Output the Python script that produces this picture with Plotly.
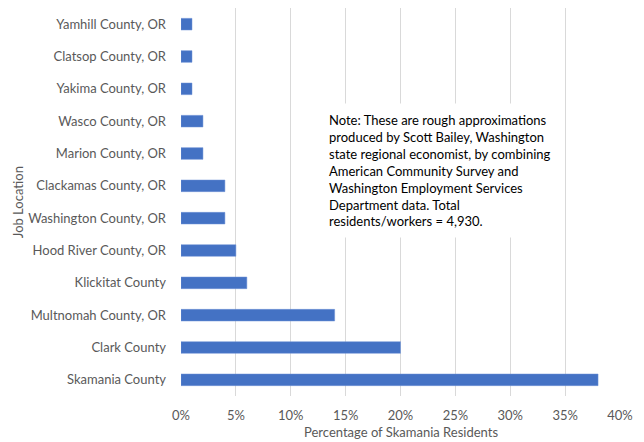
import plotly.graph_objects as go

categories = ["Skamania County", "Clark County", "Multnomah County, OR", "Klickitat County",
              "Hood River County, OR", "Washington County, OR", "Clackamas County, OR",
              "Marion County, OR", "Wasco County, OR", "Yakima County, OR",
              "Clatsop County, OR", "Yamhill County, OR"]
values = [0.38, 0.20, 0.14, 0.06, 0.05, 0.04, 0.04, 0.02, 0.02, 0.01, 0.01, 0.01]
x_ticks = [0, 0.05, 0.10, 0.15, 0.20, 0.25, 0.30, 0.35, 0.40]
x_tick_labels = ["0%", "5%", "10%", "15%", "20%", "25%", "30%", "35%", "40%"]

note = ("Note: These are rough approximations<br>produced by Scott Bailey, Washington<br>"
        "state regional economist, by combining<br>American Community Survey and<br>"
        "Washington Employment Services<br>Department data. Total<br>residents/workers = 4,930.")

fig = go.Figure(go.Bar(
    x=values, y=categories, orientation="h",
    marker=dict(color="#4472C4", line=dict(color="#6E92D6", width=0.5)),
    width=0.36,
))

fig.update_layout(
    width=636, height=434,
    margin=dict(l=173, r=24, t=0, b=46, autoexpand=False),
    paper_bgcolor="white", plot_bgcolor="white",
    font=dict(family="Lato, Open Sans, sans-serif", color="#595959", size=13),
    showlegend=False,
    xaxis=dict(range=[0, 0.40], tickvals=x_ticks, ticktext=x_tick_labels,
               showgrid=True, gridcolor="#D9D9D9", gridwidth=1, zeroline=False,
               showline=False, ticks="", automargin=False, ticklabelstandoff=10,
               tickfont=dict(size=13, color="#595959")),
    yaxis=dict(categoryorder="array", categoryarray=categories, showgrid=False,
               showline=False, ticks="", ticklabelstandoff=14, automargin=False,
               tickfont=dict(size=13, color="#595959")),
    annotations=[
        dict(text="Percentage of Skamania Residents", xref="paper", yref="paper",
             x=0.5, y=-0.093, xanchor="center", yanchor="middle", showarrow=False,
             font=dict(size=13, color="#595959")),
        dict(text="Job Location", xref="paper", yref="paper", x=-0.371, y=0.5,
             xanchor="center", yanchor="middle", textangle=-90, showarrow=False,
             font=dict(size=13, color="#595959")),
        dict(text=note, xref="paper", yref="paper", x=0.3166, y=0.756,
             xanchor="left", yanchor="top", align="left", showarrow=False,
             bgcolor="white", borderpad=8,
             font=dict(size=13, color="black")),
    ],
)

fig.write_html("out.html")
